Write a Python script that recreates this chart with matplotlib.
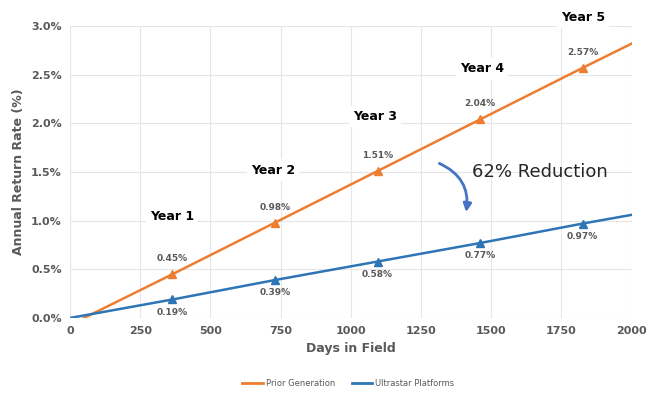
import matplotlib.pyplot as plt
from matplotlib.lines import Line2D
from matplotlib.ticker import FuncFormatter

# datos
dias_prior = [50, 365, 730, 1095, 1460, 1825, 2000]
tasa_prior = [0.0, 0.45, 0.98, 1.51, 2.04, 2.57, 2.82]
dias_ultra = [0, 365, 730, 1095, 1460, 1825, 2000]
tasa_ultra = [0.0, 0.19, 0.39, 0.58, 0.77, 0.97, 1.06]

anios = ["Year 1", "Year 2", "Year 3", "Year 4", "Year 5"]
anio_x = [363, 722, 1085, 1466, 1826]
anio_y = [1.04, 1.52, 2.07, 2.56, 3.09]

color_prior = "#ED7D31"
color_ultra = "#2E75B6"
gris = "#595959"

fig = plt.figure(figsize=(6.57, 3.95), dpi=100)
ax = fig.add_axes([0.1065, 0.195, 0.855, 0.739])

ax.plot(dias_prior, tasa_prior, color=color_prior, lw=1.8, marker="^", ms=6,
        markevery=[1, 2, 3, 4, 5])
ax.plot(dias_ultra, tasa_ultra, color=color_ultra, lw=1.8, marker="^", ms=6,
        markevery=[1, 2, 3, 4, 5])

# etiquetas de valores
for x, y in zip(dias_prior[1:6], tasa_prior[1:6]):
    ax.annotate(f"{y:.2f}%", (x, y), xytext=(0, 8), textcoords="offset points",
                ha="center", va="bottom", fontsize=6.5, fontweight="bold", color=gris)
for x, y in zip(dias_ultra[1:6], tasa_ultra[1:6]):
    ax.annotate(f"{y:.2f}%", (x, y), xytext=(0, -6), textcoords="offset points",
                ha="center", va="top", fontsize=6.5, fontweight="bold", color=gris)

for t, x, y in zip(anios, anio_x, anio_y):
    ax.text(x, y, t, ha="center", va="center", fontsize=9, fontweight="bold",
            color="black", clip_on=False,
            bbox=dict(facecolor="white", edgecolor="none", pad=3))

ax.text(1673, 1.50, "62% Reduction", ha="center", va="center", fontsize=13,
        color="#262626")
ax.annotate("", xy=(1409, 1.06), xytext=(1306, 1.60),
            arrowprops=dict(arrowstyle="-|>", color="#4472C4", lw=2,
                            connectionstyle="arc3,rad=-0.4", mutation_scale=12))

ax.set_xlim(0, 2000)
ax.set_ylim(0, 3.0)
ax.set_xticks([0, 250, 500, 750, 1000, 1250, 1500, 1750, 2000])
ax.set_yticks([0, 0.5, 1.0, 1.5, 2.0, 2.5, 3.0])
ax.yaxis.set_major_formatter(FuncFormatter(lambda v, p: f"{v:.1f}%"))
ax.tick_params(length=0, labelsize=8, colors=gris, pad=6)
for lab in ax.get_xticklabels() + ax.get_yticklabels():
    lab.set_fontweight("bold")
ax.grid(True, color="#E6E6E6", lw=0.8)
ax.set_axisbelow(True)
for s in ax.spines.values():
    s.set_visible(False)

ax.set_xlabel("Days in Field", fontsize=9, fontweight="bold", color=gris)
ax.set_ylabel("Annual Return Rate (%)", fontsize=9, fontweight="bold", color=gris)

lineas = [Line2D([], [], color=color_prior, lw=2), Line2D([], [], color=color_ultra, lw=2)]
fig.legend(lineas, ["Prior Generation", "Ultrastar Platforms"], loc="lower center",
           bbox_to_anchor=(0.53, 0.0), ncol=2, frameon=False, fontsize=6,
           labelcolor=gris, handlelength=2.5, handletextpad=0.3, columnspacing=2)

fig.savefig("out.png", dpi=100)
